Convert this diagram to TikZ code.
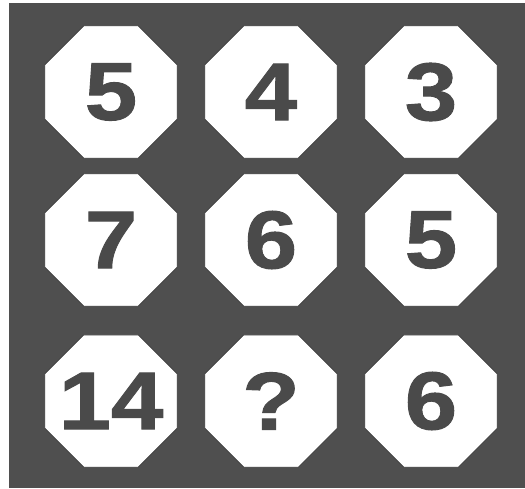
\documentclass[tikz,border=0pt]{standalone}
\usepackage{fontspec}
\newfontfamily\digfont[FakeStretch=1.15,FakeBold=1.2]{Liberation Sans Bold}
\usetikzlibrary{shapes.geometric}
\definecolor{bgray}{HTML}{4F4F4F}
\definecolor{dgray}{HTML}{4A4A4A}
\tikzset{
  oct/.style={regular polygon, regular polygon sides=8, minimum size=143pt, inner sep=0pt,
    fill=white, draw=black!80, line width=0.6pt},
  num/.style={inner sep=0pt, font=\digfont\fontsize{82}{82}\selectfont, text=dgray}
}
\begin{document}
\begin{tikzpicture}[x=1pt,y=1pt]
\useasboundingbox (0,0) rectangle (525,-488);
\fill[bgray] (9,-3) rectangle (525,-488);
\node[oct] (a1) at (111,-92) {};
\node[oct] (a2) at (271,-92) {};
\node[oct] (a3) at (431,-92) {};
\node[oct] (b1) at (111,-240) {};
\node[oct] (b2) at (271,-240) {};
\node[oct] (b3) at (431,-240) {};
\node[oct] (c1) at (111,-401) {};
\node[oct] (c2) at (271,-401) {};
\node[oct] (c3) at (431,-401) {};
\node[num] (ta1) at (a1) {5};
\node[num] (ta2) at (a2) {4};
\node[num] (ta3) at (a3) {3};
\node[num] (tb1) at (b1) {7};
\node[num] (tb2) at (b2) {6};
\node[num] (tb3) at (b3) {5};
\node[num] (tc1) at (c1) {14};
\node[num] (tc2) at (c2) {?};
\node[num] (tc3) at (c3) {6};
\end{tikzpicture}
\end{document}
